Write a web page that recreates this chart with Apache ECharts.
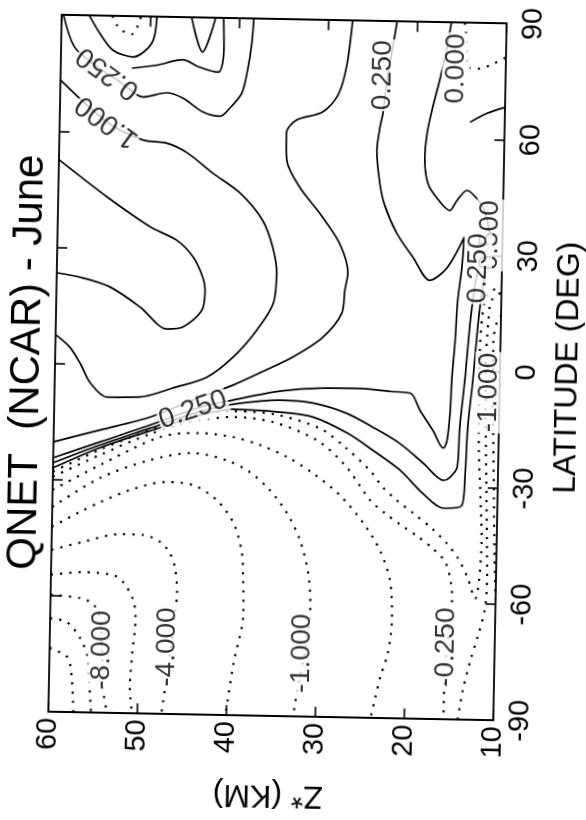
<!DOCTYPE html>
<html><head><meta charset="utf-8">
<script src="https://cdn.jsdelivr.net/npm/echarts@6/dist/echarts.min.js"></script>
<style>
html,body{margin:0;padding:0;background:#fff}
#main{width:586px;height:820px;transform:rotate(1.1deg);transform-origin:277.5px 367.5px}
</style>
</head><body><div id="main"></div>
<script>
// axes
const zRange = [10, 60];          // Z* (KM)
const zStep = 10;
const latRange = [-90, 90];       // LATITUDE (DEG)
const latStep = 30;

// contours, points are [Z* km, latitude deg]
const cM12 = [[60,-73.5],[58.0,-75.8],[57.5,-79.9],[57.2,-90]];
const cM10 = [[60,-65.8],[58.1,-66.8],[56.6,-70.8],[55.7,-75.7],[55.5,-81.6],[55.2,-90]];
const cM8 = [[60,-59.8],[56.7,-60.5],[55.2,-62.0],[54.4,-65.5],[54.1,-73.8],[53.9,-84.1],[53.4,-90]];
const cM6 = [[60,-54.6],[56.4,-53.8],[53.0,-54.4],[51.9,-56.1],[50.7,-60.8],[50.4,-65.9],[50.7,-74.4],[50.9,-83.2],[50.6,-90]];
const cM4 = [[60,-48.2],[56.5,-46.0],[52.3,-43.8],[49.7,-43.9],[47.8,-45.6],[46.7,-48.4],[46.1,-52.0],[45.8,-58.5],[46.0,-64.4],[46.4,-73.5],[46.9,-82.5],[47.3,-90]];
const cM2 = [[60,-42.2],[56.9,-38.3],[54.6,-35.6],[51.0,-32.1],[47.2,-30.1],[44.2,-30.8],[41.5,-34.6],[39.6,-40.4],[38.6,-48.1],[38.4,-55.1],[38.3,-63.6],[39.3,-76.6],[40.1,-90]];
const cM1 = [[60,-37.1],[54.7,-29.4],[49.1,-24.5],[44.3,-22.5],[40.5,-24.2],[37.9,-27.1],[35.6,-31.7],[33.6,-37.6],[32.1,-44.5],[31.1,-53.0],[30.8,-61.7],[31.3,-72.9],[32.0,-81.9],[32.5,-90]];
const cM05 = [[60,-32.7],[54.7,-26.0],[48.0,-18.5],[43.6,-17.3],[39.8,-18.2],[36.8,-20.1],[33.7,-23.1],[30.8,-27.1],[27.7,-32.7],[25.0,-39.8],[23.1,-46.7],[21.9,-54.4],[21.6,-64.7],[22.0,-73.3],[22.8,-79.5],[23.3,-84.7],[23.8,-90]];
const cM025 = [[60,-29.3],[54.7,-23.4],[49.2,-17.8],[44.7,-14.5],[39.9,-13.0],[35.4,-14.1],[30.4,-18.6],[27.2,-24.9],[24.3,-33.8],[22.6,-37.1],[20.9,-39.9],[18.9,-42.9],[17.2,-45.9],[15.7,-49.5],[15.0,-55.4],[14.9,-59.3],[15.3,-69.6],[15.6,-79.9],[15.6,-90]];
const cM01 = [[60,-28.0],[54.8,-22.1],[49.2,-16.8],[44.7,-13.2],[39.9,-11.5],[35.2,-12.1],[30.1,-15.5],[27.2,-20.3],[24.4,-26.1],[22.9,-30.4],[21.3,-33.7],[19.4,-37.0],[17.3,-40.8],[15.6,-44.6],[14.3,-48.4],[13.2,-53.3],[12.3,-58.7],[11.9,-54.0],[11.7,-43.6],[11.9,-33.3],[12.2,-20.4],[12.3,-7.5],[12.3,5.4],[12.1,14.5],[11.6,19.7],[10,22.3]];
const cEqA = [[14.0,-90],[13.5,-82.5],[12.7,-74.7],[11.9,-68.2],[11.2,-61.7],[11.0,-53.9],[11.1,-43.6],[11.3,-28.1],[11.5,-12.6],[11.6,2.9],[11.4,13.2],[11.1,18.4],[10,20.5]];
const cEqB = [[10,-59.1],[10.2,-48.7],[10.4,-33.3],[10.6,-17.8],[10.8,-4.9],[10.8,8.1],[10.4,13.2],[10,14.5]];
const cNegTL = [[54.3,90],[53.8,87.7],[52.9,85.9],[52.0,85.4],[51.4,87.8],[51.1,90]];
const cNegTR = [[14.7,90],[14.4,84.7],[14.3,78.5],[12.9,78.2],[11.8,79.1],[10,81.2]];

const cP2 = [[60,52.6],[54.5,43.2],[49.6,35.7],[46.6,32.4],[44.7,28.1],[43.6,23.0],[43.3,19.7],[43.6,14.5],[45.7,10.0],[47.5,9.4],[50.6,15.0],[54.0,20.0],[57.1,22.2],[60,23.4]];
const cP1 = [[60,73.2],[54.7,62.6],[50.6,58.1],[47.9,57.4],[45.6,55.0],[42.7,49.9],[39.6,44.9],[37.0,38.0],[35.8,31.1],[35.3,24.4],[35.6,16.6],[37.4,9.6],[40.0,2.5],[42.9,-2.8],[46.7,-5.8],[50.4,-8.3],[54.1,-8.5],[56.0,-4.9],[57.2,0.2],[58.4,4.3],[60,7.4]];
const cP05 = [[60,-20.3],[54.8,-17.0],[49.2,-13.4],[43.6,-8.0],[40.0,-4.8],[36.4,-0.8],[33.3,2.8],[30.0,8.0],[27.9,14.3],[27.6,20.3],[27.3,24.7],[28.3,32.4],[30.6,40.1],[32.9,46.7],[34.4,53.6],[34.5,60.6],[33.4,64.0],[30.5,66.2],[28.8,70.6],[27.9,77.9],[27.3,90]];
const cP025 = [[60,-24.4],[54.8,-20.1],[49.2,-15.5],[43.6,-10.6],[39.9,-8.6],[34.7,-6.1],[30.2,-5.1],[26.0,-5.0],[22.3,-5.6],[20.0,-6.0],[18.9,-10.3],[17.4,-15.5],[16.2,-20.0],[15.8,-18.0],[15.5,-10.2],[15.4,-2.5],[15.1,7.9],[14.9,18.2],[14.5,26.8],[14.3,34.6],[16.2,26.5],[18.1,23.3],[20.0,29.1],[21.9,35.3],[23.3,42.4],[23.9,48.1],[24.3,56.6],[24.0,62.6],[23.7,66.2],[23.3,74.7],[22.7,83.8],[22.3,90]];
const cP012 = [[60,-25.7],[54.8,-20.9],[49.2,-16.3],[43.6,-11.7],[39.9,-9.7],[34.6,-8.4],[30.9,-9.0],[27.1,-11.5],[24.1,-15.0],[21.1,-19.0],[18.4,-24.0],[16.1,-28.3],[15.4,-27.5],[14.6,-24.9],[14.4,-14.6],[13.9,-1.6],[13.5,11.3],[13.2,18.3],[12.9,23.5],[12.5,28.1],[11.8,32.6]];
const cP0 = [[60,-27.0],[54.8,-21.6],[49.2,-17.0],[43.6,-12.7],[39.9,-11.0],[34.6,-11.5],[30.9,-12.6],[27.0,-16.6],[24.1,-20.9],[21.0,-25.9],[18.4,-31.8],[16.1,-35.5],[14.0,-34.7],[13.7,-27.4],[13.5,-14.5],[13.0,-1.6],[12.6,11.3],[12.3,18.4],[12.0,23.6],[11.7,29.1],[11.5,35.2],[11.9,40.3],[12.6,43.6],[14.1,46.7],[15.2,44.0],[16.0,41.4],[17.5,44.7],[18.5,48.3],[18.9,55.0],[18.7,61.2],[18.2,67.2],[17.4,75.0],[16.7,82.8],[16.2,90]];
const cP0TL = [[56.9,90],[55.7,85.5],[54.2,81.2],[51.9,79.5],[49.8,83.2],[49.3,90]];
const cP025TL = [[59.8,90],[58.5,81.8],[56.2,77.2],[53.3,73.0],[50.7,69.2],[48.0,70.4],[46.2,69.1],[43.9,65.6],[42.0,64.6],[40.9,66.8],[39.6,70.7],[39.0,76.7],[38.6,83.2],[38.4,90]];
const cTLb = [[52.0,76.6],[49.2,77.5],[46.3,79.0],[44.4,77.2],[42.3,76.0],[41.7,81.7],[41.8,90]];
const cTLv = [[45.4,90],[44.1,81.1],[42.7,90]];
const cTRs = [[13.9,64.3],[12.0,66.7],[10,68.3]];

// contour labels
const labelZ = [54.1, 46.8, 31.7, 15.5, 11.2, 44.4, 54.7, 54.7, 23.8, 15.6, 11.4, 12.7];
const labelLat = [-73.8, -72.7, -73.7, -71.4, -5.4, -11.4, 75.2, 62.6, 76.0, 78.1, 35.2, 26.6];
const labelText = ['-8.000','-4.000','-1.000','-0.250','-1.000','0.250','0.250','1.000','0.250','0.000','0.500','0.250'];
const labelAngle = [90, 90, 90, 90, 90, 20, 145, 145, 90, 90, 90, 90];

const dotted = [cM12,cM10,cM8,cM6,cM4,cM2,cM1,cM05,cM025,cM01,cEqA,cEqB,cNegTL,cNegTR];
const solid = [cP2,cP1,cP05,cP025,cP012,cP0,cP0TL,cP025TL,cTLb,cTLv,cTRs];

const FONT = 'Liberation Sans, Arial, sans-serif';
const series = [];
dotted.forEach(d => series.push({type:'line', data:d, symbol:'none', smooth:0.3, silent:true,
  lineStyle:{color:'#000', width:2.2, type:[2.2,7]}, z:2}));
solid.forEach(d => series.push({type:'line', data:d, symbol:'none', smooth:0.3, silent:true,
  lineStyle:{color:'#000', width:1.7}, z:3}));
series.push({type:'scatter', symbolSize:1, itemStyle:{color:'rgba(0,0,0,0)'}, silent:true, z:5,
  data: labelText.map((t,i) => ({value:[labelZ[i], labelLat[i]], label:{formatter:t, rotate:labelAngle[i]}})),
  label:{show:true, position:'inside', fontSize:28, color:'#000', fontFamily:FONT, backgroundColor:'#fff', padding:[0,1]}});

const axisCommon = {type:'value', splitLine:{show:false},
  axisLine:{onZero:false, lineStyle:{color:'#000', width:1.8}},
  axisTick:{inside:true, length:10, lineStyle:{color:'#000', width:1.6}}};

const chart = echarts.init(document.getElementById('main'), null, {renderer:'canvas'});
chart.setOption({
  animation:false,
  backgroundColor:'#fff',
  grid:{left:55, top:19, width:445, height:697},
  xAxis:[
    Object.assign({}, axisCommon, {min:zRange[0], max:zRange[1], interval:zStep, inverse:true, position:'bottom',
      axisLabel:{rotate:90, fontSize:29, color:'#000', fontFamily:FONT, margin:6}}),
    Object.assign({}, axisCommon, {min:zRange[0], max:zRange[1], interval:zStep, inverse:true, position:'top',
      axisLabel:{show:false}})
  ],
  yAxis:[
    Object.assign({}, axisCommon, {min:latRange[0], max:latRange[1], interval:latStep, position:'right',
      axisLabel:{rotate:90, fontSize:29, color:'#000', fontFamily:FONT, margin:12}}),
    Object.assign({}, axisCommon, {min:latRange[0], max:latRange[1], interval:latStep, position:'left',
      axisLabel:{show:false}})
  ],
  graphic:[
    {type:'text', x:27, y:367, rotation:Math.PI/2, style:{text:'QNET  (NCAR) - June', fontSize:42, fontFamily:FONT, fill:'#000', textAlign:'center', textVerticalAlign:'middle'}},
    {type:'text', x:568, y:362, rotation:Math.PI/2, style:{text:'LATITUDE (DEG)', fontSize:32, fontFamily:FONT, fill:'#000', textAlign:'center', textVerticalAlign:'middle'}},
    {type:'text', x:276, y:795, rotation:Math.PI, style:{text:'Z* (KM)', fontSize:32, fontFamily:FONT, fill:'#000', textAlign:'center', textVerticalAlign:'middle'}}
  ],
  series: series
});
</script>
</body></html>
